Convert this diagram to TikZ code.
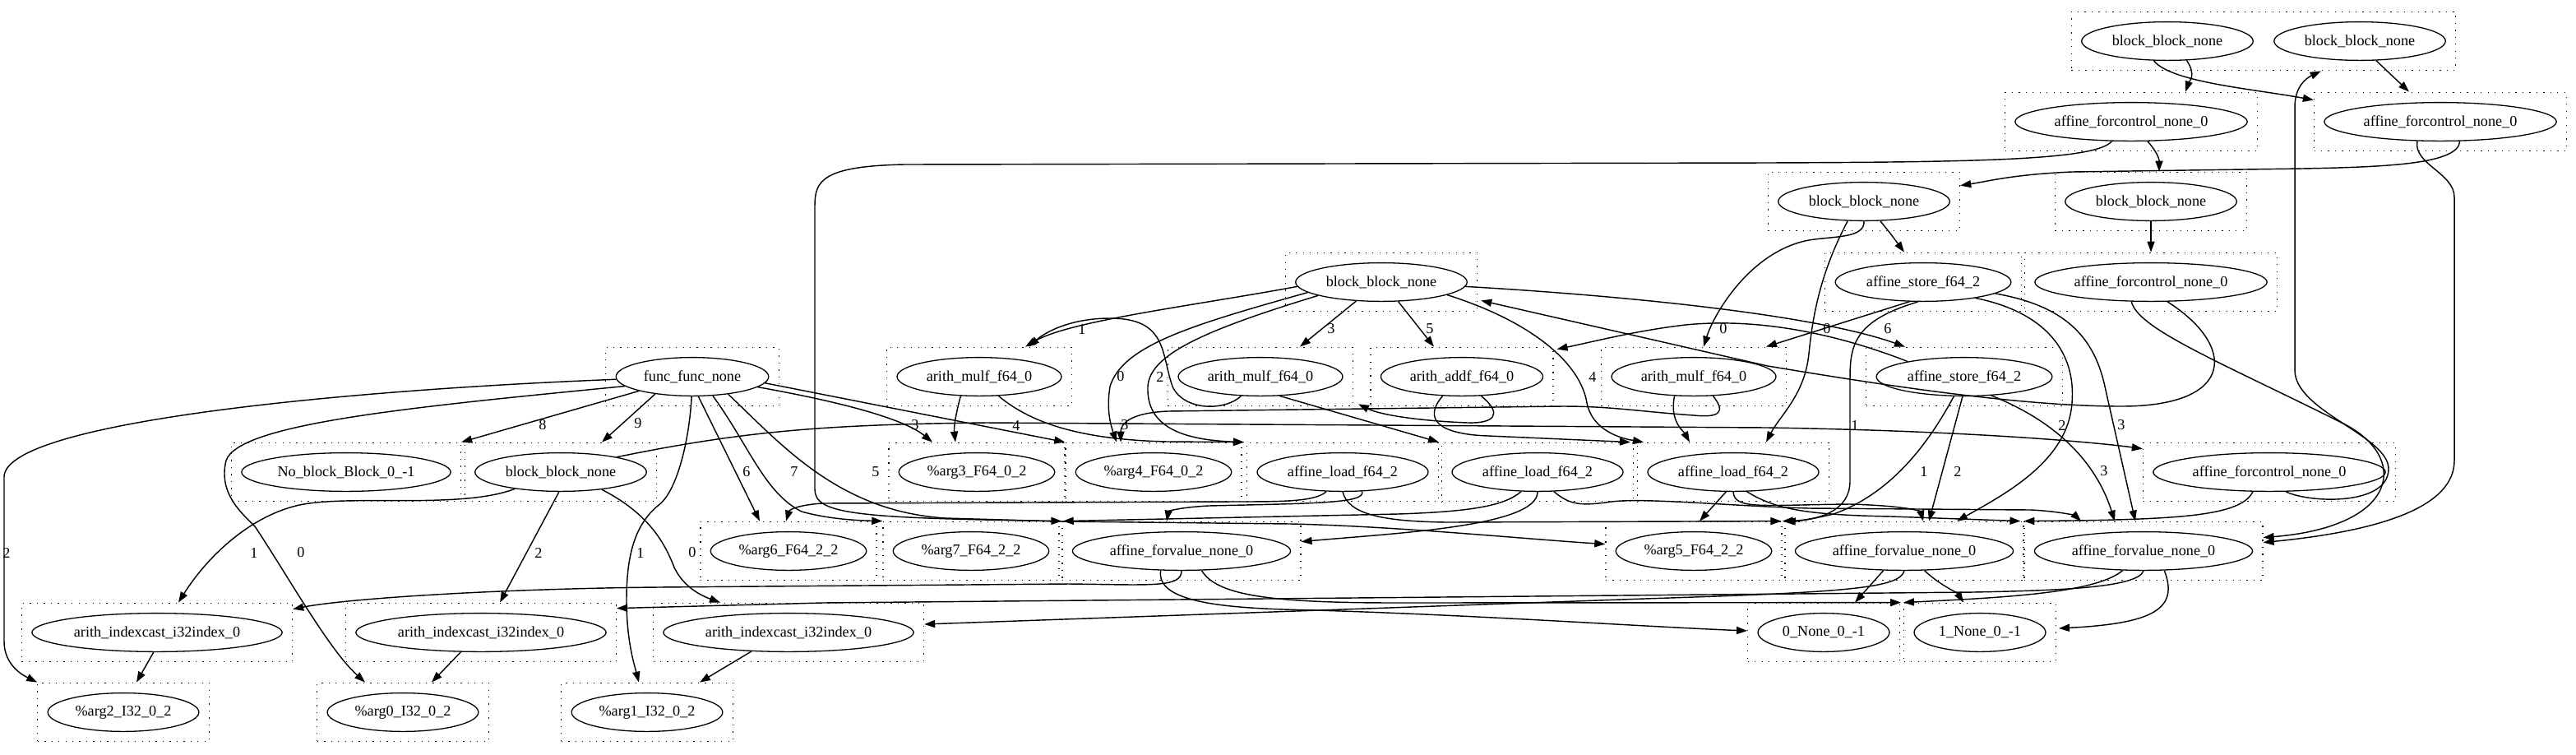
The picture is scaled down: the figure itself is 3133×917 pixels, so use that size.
\documentclass[tikz,border=0pt]{standalone}
\usepackage{fontspec}
\setmainfont{Liberation Serif}
\usetikzlibrary{shapes.geometric,fit,calc,arrows.meta}
\tikzset{
  op/.style={draw, ellipse, line width=1pt, minimum height=36pt, inner xsep=5pt, inner ysep=0pt,
    font=\fontsize{14pt}{16pt}\selectfont},
  clus/.style={draw, line width=1pt, dash pattern=on 1pt off 5.5pt, inner sep=9pt, fit=#1},
  conn/.style={line width=1.1pt, -{Triangle[length=10pt,width=7pt]}},
  lbl/.style={font=\fontsize{14pt}{16pt}\selectfont, inner sep=0pt},
}
\begin{document}
\begin{tikzpicture}[x=0.76923pt, y=-0.76923pt]
  \useasboundingbox (0,0) rectangle (3133,917);
  % ops, one row per rank
  \node[op] (bbA) at (2636,50) {block\_block\_none};
  \node[op] (bbB) at (2870,50) {block\_block\_none};
  \node[op] (fcA) at (2592,148) {affine\_forcontrol\_none\_0};
  \node[op] (fcB) at (2968,148) {affine\_forcontrol\_none\_0};
  \node[op] (bbC) at (2267,245) {block\_block\_none};
  \node[op] (bbD) at (2616,245) {block\_block\_none};
  \node[op] (bbE) at (1680,343) {block\_block\_none};
  \node[op] (stA) at (2339,343) {affine\_store\_f64\_2};
  \node[op] (fcC) at (2616,343) {affine\_forcontrol\_none\_0};
  \node[op] (func) at (842,458) {func\_func\_none};
  \node[op] (mulA) at (1191,458) {arith\_mulf\_f64\_0};
  \node[op] (mulB) at (1533,458) {arith\_mulf\_f64\_0};
  \node[op] (addf) at (1778,458) {arith\_addf\_f64\_0};
  \node[op] (mulC) at (2060,458) {arith\_mulf\_f64\_0};
  \node[op] (stB) at (2389,458) {affine\_store\_f64\_2};
  \node[op] (noblk) at (421,574) {No\_block\_Block\_0\_-1};
  \node[op] (bbF) at (682,574) {block\_block\_none};
  \node[op] (argthree) at (1188,574) {\%arg3\_F64\_0\_2};
  \node[op] (argfour) at (1403,574) {\%arg4\_F64\_0\_2};
  \node[op] (ldA) at (1633,574) {affine\_load\_f64\_2};
  \node[op] (ldB) at (1870,574) {affine\_load\_f64\_2};
  \node[op] (ldC) at (2108,574) {affine\_load\_f64\_2};
  \node[op] (fcD) at (2760,574) {affine\_forcontrol\_none\_0};
  \node[op] (argsix) at (959,670) {\%arg6\_F64\_2\_2};
  \node[op] (argseven) at (1181,670) {\%arg7\_F64\_2\_2};
  \node[op] (fvA) at (1437,670) {affine\_forvalue\_none\_0};
  \node[op] (argfive) at (2060,670) {\%arg5\_F64\_2\_2};
  \node[op] (fvB) at (2316,670) {affine\_forvalue\_none\_0};
  \node[op] (fvC) at (2607,670) {affine\_forvalue\_none\_0};
  \node[op] (icA) at (191,769) {arith\_indexcast\_i32index\_0};
  \node[op] (icB) at (585,769) {arith\_indexcast\_i32index\_0};
  \node[op] (icC) at (959,769) {arith\_indexcast\_i32index\_0};
  \node[op] (zeroN) at (2218,769) {0\_None\_0\_-1};
  \node[op] (oneN) at (2408,769) {1\_None\_0\_-1};
  \node[op] (argtwo) at (150,866) {\%arg2\_I32\_0\_2};
  \node[op] (argzero) at (490,866) {\%arg0\_I32\_0\_2};
  \node[op] (argone) at (787,866) {\%arg1\_I32\_0\_2};

  % dotted cluster boxes
  \node[clus={(bbA)(bbB)}] (bclTop) {};
  \foreach \n in {fcA,fcB,bbC,bbD,bbE,stA,fcC,func,mulA,mulB,addf,mulC,stB,noblk,bbF,
      argthree,argfour,ldA,ldB,ldC,fcD,argsix,argseven,fvA,argfive,fvB,fvC,
      icA,icB,icC,zeroN,oneN,argtwo,argzero,argone}
    \node[clus=(\n)] (b\n) {};

  % top part
  \draw[conn] (bbA.-45) .. controls (2672,92) and (2662,100) .. ($(bfcA.north)+(66,0)$);
  \draw[conn] (bbA.-125) .. controls (2640,100) and (2740,108) .. ($(bfcB.north west)+(0,10)$);
  \draw[conn] (bbB.-50) -- ($(bfcB.north)+(-38,0)$);
  \draw[conn] (fcA.-135) .. controls (2550,195) and (2400,197) .. (2150,198) -- (1100,200)
    .. controls (1000,202) and (991,220) .. (991,250) -- (991,595)
    .. controls (991,625) and (1040,630) .. (bfvA.north west);
  \draw[conn] (fcA.-50) .. controls (2628,190) and (2626,198) .. ($(bbbD.north)+(10,0)$);
  \draw[conn] (fcB.-45) .. controls (2990,200) and (2900,203) .. (2800,205) -- (2520,209)
    .. controls (2450,212) and (2420,220) .. ($(bbbC.north east)+(0,17)$);
  \draw[conn] (fcB.-140) .. controls (2935,200) and (2985,210) .. (2985,240) -- (2985,560)
    .. controls (2985,615) and (2900,645) .. ($(bfvC.north east)+(0,26)$);
  \draw[conn] (fcC.-135) .. controls (2600,400) and (2700,440) .. (2850,515)
    .. controls (2930,555) and (2920,640) .. ($(bfvC.north east)+(0,20)$);
  \draw[conn] (fcC.-50) .. controls (2720,420) and (2720,494) .. (2580,494)
    .. controls (2460,494) and (2300,470) .. (2150,445) -- ($(bbbE.south east)+(4,-14)$);
  \draw[conn] (fcD.-50) .. controls (2810,612) and (2905,615) .. (2905,570)
    .. controls (2905,530) and (2791,500) .. (2791,450) -- (2791,130)
    .. controls (2791,105) and (2805,95) .. ($(bclTop.south west)+(304,0)$);
  \draw[conn] (fcD.-130) .. controls (2725,628) and (2650,632) .. (bfvC.north west);
  \draw[conn] (bbD.south) -- (bfcC.north);
  \draw[conn] (bbC.-50) .. controls (2300,285) .. ($(bstA.north)+(-23,0)$);
  \draw[conn] (bbC.-90) .. controls (2268,290) and (2230,287) .. (2200,292)
    .. controls (2130,305) and (2085,380) .. ($(bmulC.north)+(12,0)$);
  \draw[conn] (bbC.-130) .. controls (2215,330) and (2205,380) .. (2200,430)
    .. controls (2195,480) and (2165,505) .. ($(bldC.north)+(40,0)$);

  % stores
  \draw[conn] (stA.-125) -- ($(bmulC.north east)+(-25,0)$);
  \draw[conn] (stA.-105) .. controls (2255,390) and (2250,420) .. (2250,460) -- (2250,585)
    .. controls (2250,620) and (2215,632) .. (bargfive.north east);
  \draw[conn] (stA.-17) .. controls (2490,380) and (2525,430) .. (2520,490)
    .. controls (2515,560) and (2440,600) .. ($(bfvB.north)+(64,0)$);
  \draw[conn] (stA.-9) .. controls (2500,370) and (2545,400) .. (2560,470) -- ($(bfvC.north)+(-10,0)$);
  \draw[conn] (stB.165) .. controls (2250,412) and (2150,385) .. (2050,395)
    .. controls (1990,402) and (1940,415) .. ($(baddf.north east)+(4,3)$);
  \draw[conn] (stB.-118) .. controls (2345,540) and (2300,600) .. (2230,625)
    .. controls (2200,632) and (2185,634) .. ($(bargfive.north east)+(3,0)$);
  \draw[conn] (stB.-95) -- ($(bfvB.north)+(30,0)$);
  \draw[conn] (stB.-35) .. controls (2520,520) and (2555,580) .. ($(bfvC.north)+(-35,0)$);

  % inner block
  \draw[conn] (bbE.183) .. controls (1450,372) and (1300,390) .. ($(bmulA.north)+(56,0)$);
  \draw[conn] (bbE.188) .. controls (1450,395) and (1365,420) .. (1350,470)
    .. controls (1345,500) and (1352,520) .. ($(bargfour.north)+(-45,0)$);
  \draw[conn] (bbE.192) .. controls (1470,400) and (1398,430) .. (1396,470)
    .. controls (1394,520) and (1440,535) .. ($(bldA.north west)+(-3,0)$);
  \draw[conn] (bbE.-143) -- ($(bmulB.north)+(48,0)$);
  \draw[conn] (bbE.-49) -- ($(baddf.north)+(-34,0)$);
  \draw[conn] (bbE.-11) .. controls (1860,390) and (1922,440) .. (1930,490)
    .. controls (1936,520) and (1965,532) .. ($(bldC.north west)+(8,0)$);
  \draw[conn] (bbE.-3) .. controls (1950,358) and (2200,380) .. ($(bstB.north)+(-72,0)$);
  \draw[conn] (mulA.-134) .. controls (1162,505) and (1160,520) .. ($(bargthree.north)+(-26,0)$);
  \draw[conn] (mulA.-45) .. controls (1260,520) and (1330,535) .. (1420,537) -- ($(bldA.north west)+(-3,0)$);
  \draw[conn] (mulB.-45) -- ($(bldB.north west)+(-3,0)$);
  \draw[conn] (mulB.-135) .. controls (1490,500) and (1440,500) .. (1426,470)
    .. controls (1412,430) and (1420,387) .. (1350,387)
    .. controls (1300,387) and (1270,405) .. ($(bmulA.north)+(60,0)$);
  \draw[conn] (addf.-135) .. controls (1730,510) and (1750,528) .. (1810,530) -- ($(bldC.north west)+(-8,0)$);
  \draw[conn] (addf.-45) .. controls (1830,505) and (1815,515) .. (1785,514)
    .. controls (1730,512) and (1680,505) .. ($(bmulB.south east)+(6,-3)$);
  \draw[conn] (mulC.-135) .. controls (2030,512) and (2048,525) .. ($(bldC.north)+(-53,0)$);
  \draw[conn] (mulC.-45) .. controls (2100,502) and (2090,508) .. (2060,505)
    .. controls (1990,500) and (1960,494) .. (1900,494) -- (1420,500)
    .. controls (1375,502) and (1363,515) .. ($(bargfour.north)+(-40,0)$);

  % outer block and func
  \draw[conn] (bbF.-160) .. controls (560,620) and (420,600) .. (360,615)
    .. controls (300,630) and (250,680) .. ($(bicA.north)+(26,0)$);
  \draw[conn] (bbF.-95) -- ($(bicB.north)+(23,0)$);
  \draw[conn] (bbF.-23) .. controls (780,620) and (805,650) .. (820,690)
    .. controls (832,715) and (855,725) .. ($(bicC.north)+(-83,0)$);
  \draw[conn] (bbF.15) .. controls (900,525) and (1000,516) .. (1200,514) -- (2150,520)
    .. controls (2400,524) and (2550,538) .. ($(bfcD.north west)+(0,8)$);
  \draw[conn] (func.182) .. controls (400,475) and (5,515) .. (5,580) -- (5,780)
    .. controls (5,810) and (30,822) .. (bargtwo.north west);
  \draw[conn] (func.188) .. controls (500,495) and (290,515) .. (275,560)
    .. controls (265,600) and (295,625) .. (310,640)
    .. controls (350,700) and (400,790) .. ($(bargzero.north)+(-46,0)$);
  \draw[conn] (func.-165) -- (bnoblk.north east);
  \draw[conn] (func.-155) -- ($(bbbF.north)+(50,0)$);
  \draw[conn] (func.-92) .. controls (838,540) and (822,600) .. (800,615)
    .. controls (770,640) and (762,680) .. (762,730)
    .. controls (762,780) and (772,810) .. ($(bargone.north)+(-10,0)$);
  \draw[conn] (func.-73) -- ($(bargsix.north)+(-35,0)$);
  \draw[conn] (func.-43) .. controls (910,540) and (930,600) .. (975,622)
    .. controls (1010,632) and (1050,633) .. (bargseven.north west);
  \draw[conn] (func.-26) .. controls (950,540) and (1020,622) .. (1150,630) -- (1290,634) -- (1570,637)
    .. controls (1700,640) and (1850,655) .. ($(bargfive.north west)+(0,28)$);
  \draw[conn] (func.-9) .. controls (1030,490) and (1100,510) .. ($(bargthree.north)+(-54,0)$);
  \draw[conn] (func.-5) -- (bargfour.north west);

  % loads
  \draw[conn] (ldA.-130) .. controls (1600,610) and (1560,610) .. (1500,610) -- (1000,612)
    .. controls (970,614) and (960,620) .. ($(bargsix.north)+(-3,0)$);
  \draw[conn] (ldA.-45) .. controls (1662,612) and (1600,612) .. (1470,615)
    .. controls (1432,617) and (1421,622) .. ($(bfvA.north)+(-18,0)$);
  \draw[conn] (ldA.-90) .. controls (1640,625) and (1680,634) .. (1760,635) -- ($(bfvB.north west)+(-4,0)$);
  \draw[conn] (ldB.-130) .. controls (1830,615) and (1790,622) .. (1700,625) -- ($(bargseven.north east)+(4,0)$);
  \draw[conn] (ldB.-90) .. controls (1870,640) and (1700,648) .. ($(bfvA.north east)+(0,25)$);
  \draw[conn] (ldB.-50) .. controls (1910,615) and (1925,615) .. (1960,610)
    .. controls (2000,605) and (2100,615) .. (2200,618) -- (2470,620)
    .. controls (2510,622) and (2525,628) .. ($(bfvC.north)+(-76,0)$);
  \draw[conn] (ldC.-110) -- ($(bargfive.north)+(7,0)$);
  \draw[conn] (ldC.-90) .. controls (2110,620) and (2140,614) .. (2250,613)
    .. controls (2320,615) and (2336,622) .. ($(bfvB.north)+(23,0)$);
  \draw[conn] (ldC.-55) .. controls (2160,620) and (2200,626) .. (2300,628) -- ($(bfvC.north west)+(-4,0)$);

  % forvalues and casts
  \draw[conn] (fvA.-90) .. controls (1437,715) and (1400,711) .. (1300,710) -- (800,714)
    .. controls (600,716) and (420,728) .. ($(bicA.north east)+(0,8)$);
  \draw[conn] (fvA.-137) .. controls (1405,735) and (1500,740) .. (1600,742)
    .. controls (1800,748) and (2000,762) .. ($(bzeroN.west)+(0,-2)$);
  \draw[conn] (fvA.-44) .. controls (1480,725) and (1550,733) .. (1700,733) -- ($(boneN.north west)+(-3,0)$);
  \draw[conn] (fvB.-137) -- ($(bzeroN.north)+(38,0)$);
  \draw[conn] (fvB.-44) .. controls (2360,712) and (2380,720) .. ($(boneN.north)+(-20,0)$);
  \draw[conn] (fvB.-90) .. controls (2310,715) and (2250,720) .. (2000,728) -- ($(bicC.east)+(0,-10)$);
  \draw[conn] (fvC.-90) .. controls (2600,715) and (2500,718) .. (2400,720) -- (1000,733)
    -- ($(bicB.north east)+(0,7)$);
  \draw[conn] (fvC.-137) .. controls (2550,720) and (2450,726) .. ($(bzeroN.north east)+(4,0)$);
  \draw[conn] (fvC.-43) .. controls (2650,740) and (2620,758) .. ($(boneN.east)+(3,-5)$);
  \draw[conn] (icA.-100) -- ($(bargtwo.north)+(16,0)$);
  \draw[conn] (icB.-136) -- ($(bargzero.north)+(35,0)$);
  \draw[conn] (icC.-153) -- ($(bargone.north)+(64,0)$);

  % edge labels
  \foreach \t/\x/\y [count=\i] in {2/8/672, 0/366/672, 8/660/517, 9/776/515, 1/779/672,
      6/908/574, 7/966/574, 5/1065/574, 3/1113/517, 4/1236/517,
      1/309/672, 2/655/672, 0/842/672,
      1/1316/400, 0/1363/458, 2/1411/458, 3/1368/517, 3/1619/400, 5/1739/400,
      4/1937/458, 6/2296/400, 0/2096/400, 0/2222/400,
      1/2256/517, 2/2508/517, 3/2580/517, 1/2340/573, 2/2381/573, 3/2559/573}
    \node[lbl] (lab\i) at (\x,\y) {\t};
\end{tikzpicture}
\end{document}
